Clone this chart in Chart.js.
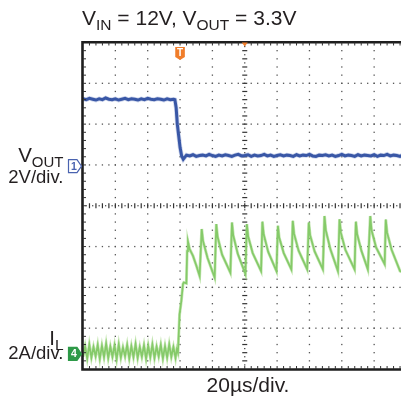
<!DOCTYPE html>
<html>
<head>
<meta charset="utf-8">
<script src="https://cdn.jsdelivr.net/npm/chart.js@4.4.0/dist/chart.umd.min.js"></script>
<style>
  html, body { margin: 0; padding: 0; background: #fff; overflow: hidden; }
  #wrap { position: relative; width: 401px; height: 402px; overflow: hidden; }
  #scope { position: absolute; left: 0; top: 0; }
  .lbl { position: absolute; line-height: 0; white-space: nowrap; color: #231f20;
         font-family: "Liberation Sans", Arial, Helvetica, sans-serif; }
  .lbl span { position: relative; line-height: 0; }
</style>
</head>
<body>
<div id="wrap">
  <canvas id="scope" width="410" height="402"></canvas>
  <div class="lbl" style="left:82px; top:18px; font-size:21px">V<span style="font-size:15.5px; top:5px">IN</span> = 12V, V<span style="font-size:15.5px; top:5px">OUT</span> = 3.3V</div>
  <div class="lbl" style="right:337.5px; top:155px; font-size:20.5px">V<span style="font-size:15px; top:4.5px">OUT</span></div>
  <div class="lbl" style="right:337.5px; top:177px; font-size:18.5px">2V/div.</div>
  <div class="lbl" style="right:337.5px; top:338px; font-size:20.5px">I<span style="font-size:15.5px; top:5px">L</span></div>
  <div class="lbl" style="right:337.5px; top:353px; font-size:18.5px">2A/div.</div>
  <div class="lbl" style="left:248px; top:385px; font-size:21px; transform:translateX(-50%)">20µs/div.</div>
</div>
<script>
// time axis in µs, vertical axis in divisions (centre = 0)
const xGrid = [20, 40, 60, 80, 120, 140, 160, 180]
const yGrid = [-3, -2, -1, 1, 2, 3]

const ch1Ref = 0.97      // V_OUT ground marker
const ch4Ref = -3.63     // I_L ground marker
const trigTime = 60
const trigLevel = 1.74

// V_OUT trace
const vTime = [
  0, 2, 4, 6, 8, 10, 12, 14, 16, 18, 20, 22, 24, 26, 28, 30, 32, 34, 36, 38, 40, 42, 44, 46, 48, 50, 52, 54, 56,
  56.8, 57.6, 58.3, 59.2, 60, 61, 62, 63,
  64, 66, 68, 70, 72, 74, 76, 78, 80, 82, 84, 86, 88, 90, 92, 94, 96, 98, 100, 102, 104, 106, 108, 110,
  112, 114, 116, 118, 120, 122, 124, 126, 128, 130, 132, 134, 136, 138, 140, 142, 144, 146, 148, 150,
  152, 154, 156, 158, 160, 162, 164, 166, 168, 170, 172, 174, 176, 178, 180, 182, 184, 186, 188, 190,
  192, 194, 196, 198, 200
]
const vOut = [
  2.62, 2.60, 2.63, 2.61, 2.59, 2.62, 2.60, 2.64, 2.61, 2.60,
  2.62, 2.59, 2.61, 2.63, 2.60, 2.62, 2.61, 2.59, 2.62, 2.60,
  2.63, 2.61, 2.60, 2.62, 2.61, 2.59, 2.62, 2.60, 2.61,
  2.60, 2.40, 2.00, 1.70, 1.43, 1.22, 1.14, 1.19,
  1.24, 1.22, 1.25, 1.21, 1.23, 1.24, 1.22, 1.26, 1.23, 1.21,
  1.24, 1.22, 1.25, 1.23, 1.21, 1.24, 1.26, 1.22, 1.23, 1.25,
  1.21, 1.24, 1.22, 1.23, 1.26, 1.22, 1.24, 1.21, 1.23, 1.25,
  1.22, 1.24, 1.23, 1.21, 1.25, 1.22, 1.24, 1.23, 1.26, 1.22,
  1.21, 1.24, 1.23, 1.25, 1.22, 1.24, 1.21, 1.23, 1.26, 1.22,
  1.24, 1.23, 1.21, 1.25, 1.22, 1.24, 1.23, 1.22, 1.25, 1.21,
  1.24, 1.23, 1.26, 1.22, 1.24, 1.23, 1.21, 1.25, 1.23
]

// I_L trace
const iTime = [
  0, 1.3, 2.6, 3.9, 5.2, 6.5, 7.8, 9.1, 10.4, 11.7, 13.0, 14.3, 15.6, 16.9, 18.2, 19.5, 20.8, 22.1, 23.4, 24.7,
  26.0, 27.3, 28.6, 29.9, 31.2, 32.5, 33.8, 35.1, 36.4, 37.7, 39.0, 40.3, 41.6, 42.9, 44.2, 45.5, 46.8, 48.1,
  49.4, 50.7, 52.0, 53.3, 54.6, 55.9, 57.2, 58.0,
  58.7, 59.7, 60.8, 61.8, 62.3, 63.9, 64.4, 64.9,
  65.9, 68.0, 70.1, 72.1,
  73.4, 74.2, 77.0, 81.4,
  82.4, 83.2, 86.0, 91.1,
  92.1, 92.9, 95.7, 100.4,
  101.3, 102.1, 104.9, 110.1,
  110.9, 111.7, 114.5, 119.6,
  120.5, 121.3, 124.1, 128.8,
  129.7, 130.5, 133.3, 138.6,
  139.6, 140.4, 143.2, 148.3,
  149.3, 150.1, 152.9, 157.6,
  158.6, 159.4, 162.2, 167.9,
  168.7, 169.5, 172.1, 176.1,
  177.6, 178.4, 181.2, 186.5,
  187.2, 188.0, 190.8, 196.0,
  200
]
const iL = [
  -3.70, -3.44, -3.74, -3.40, -3.72, -3.46, -3.69, -3.41, -3.75, -3.43, -3.71, -3.38, -3.73, -3.45, -3.70, -3.42,
  -3.76, -3.40, -3.72, -3.47, -3.69, -3.41, -3.74, -3.44, -3.71, -3.39, -3.73, -3.46, -3.70, -3.42, -3.75, -3.43,
  -3.71, -3.40, -3.73, -3.45, -3.69, -3.41, -3.74, -3.44, -3.72, -3.40, -3.70, -3.46, -3.73, -3.52,
  -3.60, -2.66, -2.33, -1.92, -1.88, -1.90, -1.11, -0.88,
  -1.06, -1.23, -1.47, -1.72,
  -0.57, -0.86, -1.28, -1.76,
  -0.45, -0.76, -1.20, -1.64,
  -0.41, -0.73, -1.18, -1.67,
  -0.45, -0.75, -1.16, -1.60,
  -0.39, -0.70, -1.13, -1.60,
  -0.49, -0.78, -1.16, -1.56,
  -0.37, -0.69, -1.10, -1.56,
  -0.41, -0.72, -1.12, -1.56,
  -0.25, -0.60, -1.06, -1.60,
  -0.33, -0.66, -1.08, -1.56,
  -0.39, -0.70, -1.10, -1.56,
  -0.25, -0.60, -1.02, -1.43,
  -0.34, -0.66, -1.08, -1.60,
  -1.66
]

function pairs(xs, ys) {
    return xs.map((t, i) => ({x: t, y: ys[i]}))
}

const graticule = {
    id: 'graticule',
    beforeDatasetsDraw(chart) {
        const {ctx, scales: {x, y}} = chart
        ctx.save()
        ctx.fillStyle = '#555'
        // dotted division lines
        for (const t of xGrid) {
            const px = x.getPixelForValue(t)
            for (let k = 1; k < 40; k++) {
                const py = y.getPixelForValue(-4 + k * 0.2)
                ctx.fillRect(px - 0.65, py - 0.65, 1.3, 1.3)
            }
        }
        for (const d of yGrid) {
            const py = y.getPixelForValue(d)
            for (let k = 1; k < 50; k++) {
                const px = x.getPixelForValue(k * 4)
                ctx.fillRect(px - 0.65, py - 0.65, 1.3, 1.3)
            }
        }
        // centre lines with minor ticks
        ctx.fillStyle = '#333'
        const cx = x.getPixelForValue(100)
        const cy = y.getPixelForValue(0)
        for (let k = 1; k < 80; k++) {
            const py = y.getPixelForValue(-4 + k * 0.1)
            if (k % 2 === 0) ctx.fillRect(cx - 2.5, py - 0.6, 5, 1.2)
            else ctx.fillRect(cx - 0.6, py - 0.6, 1.2, 1.2)
        }
        for (let k = 1; k < 100; k++) {
            const px = x.getPixelForValue(k * 2)
            if (k % 2 === 0) ctx.fillRect(px - 0.6, cy - 2.5, 1.2, 5)
            else ctx.fillRect(px - 0.6, cy - 0.6, 1.2, 1.2)
        }
        ctx.restore()
    },
    afterDatasetsDraw(chart) {
        const {ctx, chartArea: a, scales: {x, y}} = chart
        ctx.save()
        // frame (left, top, bottom)
        ctx.strokeStyle = '#1e1e1e'
        ctx.lineWidth = 2.6
        ctx.beginPath()
        ctx.moveTo(a.right + 5, a.top - 0.3)
        ctx.lineTo(a.left - 0.5, a.top - 0.3)
        ctx.lineTo(a.left - 0.5, a.bottom + 0.5)
        ctx.lineTo(a.right + 5, a.bottom + 0.5)
        ctx.stroke()
        ctx.fillStyle = '#333'
        for (let k = 1; k < 50; k++) {
            const px = x.getPixelForValue(k * 4)
            ctx.fillRect(px - 0.5, a.top, 1, 3)
            ctx.fillRect(px - 0.5, a.bottom - 3, 1, 3)
        }
        for (let k = 1; k < 40; k++) {
            const py = y.getPixelForValue(-4 + k * 0.2)
            ctx.fillRect(a.left, py - 0.5, 3, 1)
        }

        // channel ground markers
        const tab = (cy, fill, stroke, txt, txtColor) => {
            const tip = a.left - 1.5
            ctx.beginPath()
            ctx.moveTo(tip - 13, cy - 6.5)
            ctx.lineTo(tip - 4.5, cy - 6.5)
            ctx.lineTo(tip, cy)
            ctx.lineTo(tip - 4.5, cy + 6.5)
            ctx.lineTo(tip - 13, cy + 6.5)
            ctx.closePath()
            ctx.fillStyle = fill
            ctx.fill()
            ctx.lineWidth = 1.2
            ctx.strokeStyle = stroke
            ctx.stroke()
            ctx.fillStyle = txtColor
            ctx.font = 'bold 10.5px "Liberation Sans", Arial, sans-serif'
            ctx.textAlign = 'center'
            ctx.textBaseline = 'middle'
            ctx.fillText(txt, tip - 7.5, cy + 0.5)
        }
        tab(y.getPixelForValue(ch1Ref), '#ffffff', '#4a63b0', '1', '#4a63b0')
        tab(y.getPixelForValue(ch4Ref), '#2e9a48', '#2e9a48', '4', '#ffffff')

        // trigger position tab
        const tx = x.getPixelForValue(trigTime)
        ctx.fillStyle = '#f07d2a'
        ctx.beginPath()
        ctx.moveTo(tx - 4.8, a.top + 4.5)
        ctx.lineTo(tx + 4.8, a.top + 4.5)
        ctx.lineTo(tx + 4.8, a.top + 14.5)
        ctx.lineTo(tx, a.top + 17.5)
        ctx.lineTo(tx - 4.8, a.top + 14.5)
        ctx.closePath()
        ctx.fill()
        ctx.fillStyle = '#ffffff'
        ctx.font = 'bold 10px "Liberation Sans", Arial, sans-serif'
        ctx.textAlign = 'center'
        ctx.textBaseline = 'middle'
        ctx.fillText('T', tx, a.top + 10.5)

        // trigger point marker on top edge
        const mx = x.getPixelForValue(100)
        ctx.fillStyle = '#f07d2a'
        ctx.beginPath()
        ctx.moveTo(mx - 3, a.top)
        ctx.lineTo(mx + 3, a.top)
        ctx.lineTo(mx, a.top + 4)
        ctx.closePath()
        ctx.fill()

        // trigger level marker on right edge
        const ly = y.getPixelForValue(trigLevel)
        const lx = x.getPixelForValue(197.5)
        ctx.fillStyle = '#3a57a8'
        ctx.beginPath()
        ctx.moveTo(lx, ly)
        ctx.lineTo(lx + 5, ly - 3.5)
        ctx.lineTo(lx + 5, ly + 3.5)
        ctx.closePath()
        ctx.fill()
        ctx.restore()
    }
}

function drawScope() {
    const ctx = document.getElementById('scope')
    const data = {
        datasets: [
            {
                data: pairs(iTime, iL),
                borderColor: 'rgba(160, 215, 130, 0.6)',
                borderWidth: 3,
            },
            {
                data: pairs(iTime, iL),
                borderColor: '#5db745',
                borderWidth: 1.7,
            },
            {
                data: pairs(vTime, vOut),
                borderColor: 'rgba(90, 115, 190, 0.3)',
                borderWidth: 4.5,
            },
            {
                data: pairs(vTime, vOut),
                borderColor: '#2b4b9d',
                borderWidth: 3,
            }
        ]
    }

    const config = {
        type: 'line',
        data: data,
        options: {
            responsive: false,
            animation: false,
            devicePixelRatio: 1,
            layout: {padding: {left: 83, top: 42.5, right: 3.5, bottom: 33}},
            elements: {point: {radius: 0}, line: {tension: 0}},
            scales: {
                x: {type: 'linear', min: 0, max: 200, display: false},
                y: {type: 'linear', min: -4, max: 4, display: false}
            },
            plugins: {legend: {display: false}, tooltip: {enabled: false}}
        },
        plugins: [graticule]
    }

    new Chart(ctx, config)
}

document.addEventListener('DOMContentLoaded', drawScope)
</script>
</body>
</html>
